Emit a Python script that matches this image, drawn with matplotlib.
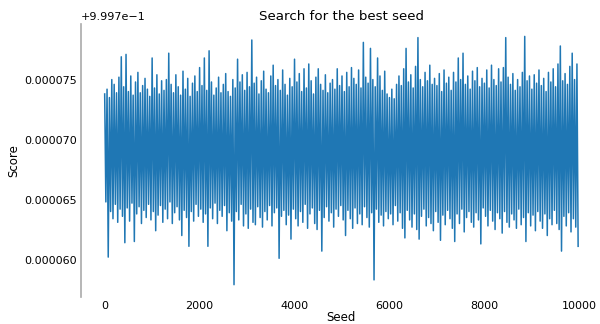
import numpy as np
import matplotlib
matplotlib.use("Agg")
import matplotlib.pyplot as plt
from matplotlib.ticker import ScalarFormatter

# scores are read as (score - 0.9997) in units of 1e-6, one high and one low per block of 50 seeds
block = 50
score_base = 0.9997

block_high = [
    73.8, 74.2, 73.5, 75.0, 74.6, 73.9, 75.2, 76.9, 74.4, 77.1, 74.0, 75.3, 73.7, 74.8, 75.6, 73.9, 74.5, 75.1, 74.2, 73.6,
    76.8, 74.3, 75.4, 73.8, 74.9, 74.1, 75.0, 77.2, 74.6, 73.9, 75.4, 74.4, 73.7, 75.7, 74.2, 75.1, 73.6, 74.7, 75.3, 74.0,
    76.0, 74.5, 76.8, 74.1, 77.4, 74.8, 73.7, 74.3, 75.2, 73.9, 74.6, 75.5, 74.0, 73.6, 75.0, 74.3, 76.7, 74.8, 75.4, 74.1,
    75.6, 74.4, 78.3, 74.7, 75.2, 73.8, 74.9, 75.7, 74.2, 73.9, 75.3, 76.2, 74.5, 75.0, 74.1, 75.8, 74.6, 73.7, 75.1, 74.4,
    76.7, 74.8, 75.5, 74.0, 75.9, 74.3, 76.3, 74.9, 73.8, 75.2, 75.9, 74.6, 74.1, 75.4, 73.9, 74.7, 75.0, 74.2, 75.9, 74.5,
    75.3, 74.0, 75.6, 74.4, 76.0, 75.1, 74.6, 75.8, 74.3, 78.1, 75.2, 74.7, 77.6, 75.0, 74.4, 76.8, 75.3, 74.1, 75.7, 73.8,
    73.5, 74.2, 73.4, 74.6, 75.3, 74.5, 75.9, 77.6, 74.8, 75.4, 74.3, 76.1, 78.5, 75.0, 74.4, 75.6, 74.9, 76.2, 74.6, 75.1,
    74.5, 75.5, 74.0, 75.8, 74.7, 75.2, 74.1, 75.6, 74.8, 76.8, 75.0, 77.2, 74.6, 75.3, 74.2, 75.7, 74.9, 76.0, 74.4, 75.1,
    74.7, 75.8, 74.3, 76.2, 75.0, 74.5, 75.9, 74.8, 76.0, 78.5, 75.2, 74.6, 75.5, 74.1, 75.0, 74.4, 75.6, 78.6, 74.9, 75.3,
    74.2, 75.4, 74.7, 75.8, 74.5, 75.1, 74.0, 75.6, 74.8, 75.9, 74.4, 76.3, 77.8, 74.9, 75.5, 74.6, 76.1, 77.2, 75.0, 76.3,
]

block_low = [
    64.8, 60.2, 64.0, 63.4, 64.6, 63.1, 64.2, 63.6, 61.4, 64.3, 63.2, 64.7, 61.5, 63.8, 64.4, 63.0, 64.1, 63.5, 64.6, 63.3,
    64.0, 62.4, 63.7, 64.5, 63.1, 64.2, 63.4, 64.8, 63.0, 63.9, 64.4, 63.3, 62.0, 64.1, 63.5, 61.1, 64.0, 63.2, 64.6, 63.6,
    64.2, 63.1, 63.8, 61.1, 64.3, 63.4, 64.7, 63.0, 64.1, 63.6, 64.5, 62.4, 63.9, 63.2, 57.9, 64.0, 63.3, 64.6, 62.8, 63.8,
    62.6, 64.2, 63.1, 62.9, 64.4, 63.5, 62.7, 64.0, 63.3, 64.5, 62.8, 63.9, 64.3, 60.1, 63.6, 64.1, 62.9, 63.7, 61.7, 64.2,
    63.4, 62.8, 64.0, 63.1, 64.6, 62.6, 63.8, 64.3, 63.0, 62.5, 64.1, 60.7, 63.5, 64.4, 63.2, 63.9, 62.7, 64.2, 63.6, 64.5,
    63.3, 62.0, 64.1, 63.4, 62.6, 64.3, 63.0, 63.8, 62.9, 64.4, 63.5, 62.7, 63.9, 58.3, 64.2, 63.1, 63.7, 62.8, 64.0, 63.4,
    63.8, 62.9, 64.5, 63.2, 63.9, 62.6, 61.8, 64.1, 63.3, 62.7, 63.8, 62.5, 61.7, 63.6, 64.2, 62.8, 63.5, 63.0, 62.4, 64.0,
    63.1, 61.6, 63.7, 62.9, 64.1, 63.4, 62.6, 61.5, 63.8, 63.0, 64.2, 62.3, 63.5, 64.0, 63.1, 62.7, 63.9, 63.3, 61.3, 64.3,
    63.6, 62.8, 64.1, 63.2, 62.5, 63.9, 63.4, 62.2, 64.0, 63.1, 62.7, 63.8, 63.3, 62.6, 64.2, 62.9, 63.5, 61.5, 63.9, 62.8,
    63.7, 62.4, 64.0, 63.2, 62.6, 63.8, 62.0, 63.4, 62.9, 64.1, 63.0, 62.5, 60.7, 63.6, 62.8, 63.9, 62.3, 63.4, 62.7, 61.1,
]

hi = score_base + np.array(block_high) * 1e-6
lo = score_base + np.array(block_low) * 1e-6
starts = np.arange(len(hi)) * block
seed = np.column_stack([starts, starts + block // 2]).ravel()
score = np.column_stack([hi, lo]).ravel()

fig = plt.figure(figsize=(6, 3.24), dpi=100)
ax = fig.add_axes([0.135, 0.083, 0.868, 0.843])
ax.plot(seed, score, color="#1f77b4", linewidth=1.1)

ax.set_title("Search for the best seed", fontsize=9.6, pad=3)
ax.set_xlabel("Seed", fontsize=8.5, labelpad=0)
ax.set_ylabel("Score", fontsize=8.5, labelpad=3)
ax.set_xticks([0, 2000, 4000, 6000, 8000, 10000])
ax.set_yticks(score_base + np.array([60, 65, 70, 75]) * 1e-6)

fmt = ScalarFormatter(useOffset=score_base)
fmt.set_scientific(False)
ax.yaxis.set_major_formatter(fmt)
ax.tick_params(axis="both", labelsize=8, length=0, pad=3)
ax.yaxis.get_offset_text().set_fontsize(8)

for side in ["top", "right", "bottom"]:
    ax.spines[side].set_visible(False)
ax.spines["left"].set_color("#aaaaaa")
ax.spines["left"].set_linewidth(1.2)

fig.savefig("out.png", dpi=100)
